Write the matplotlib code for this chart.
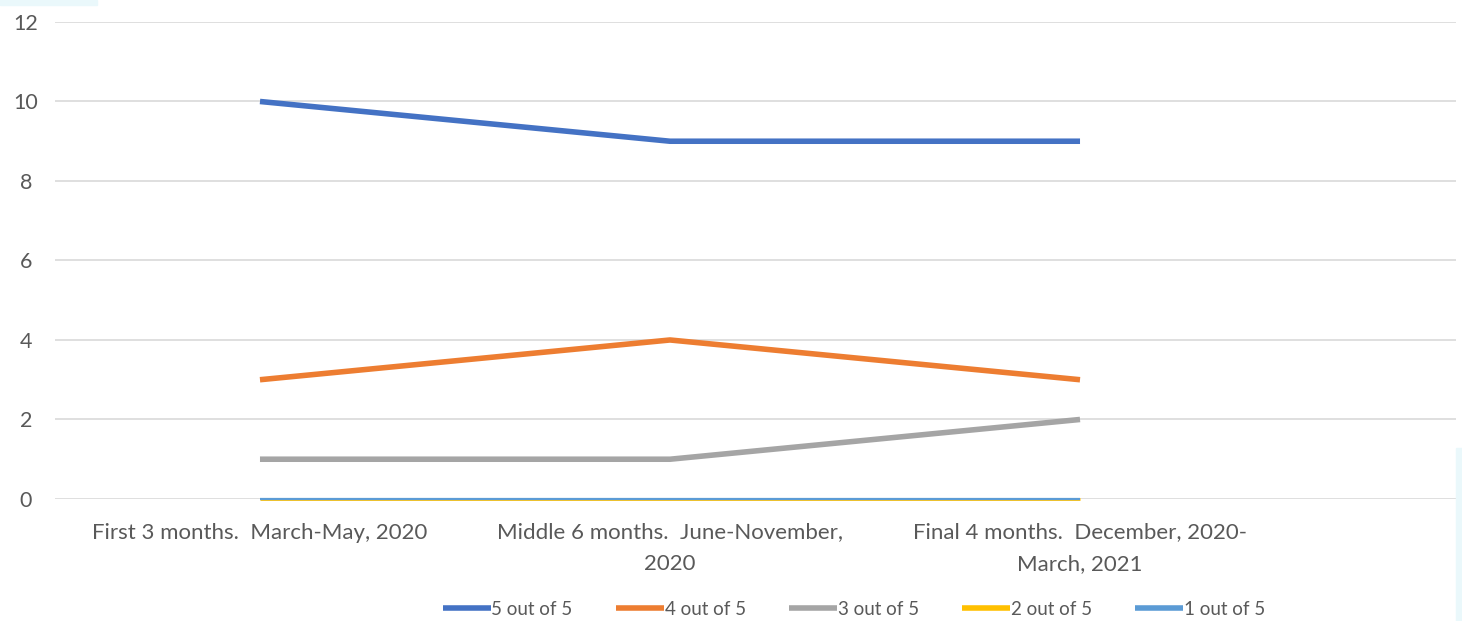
import matplotlib.pyplot as plt
from matplotlib.patches import Rectangle

# Data
periods = [
    "First 3 months.  March-May, 2020",
    "Middle 6 months.  June-November,\n2020",
    "Final 4 months.  December, 2020-\nMarch, 2021",
]
five_of_five = [10, 9, 9]
four_of_five = [3, 4, 3]
three_of_five = [1, 1, 2]
two_of_five = [0, 0, 0]
one_of_five = [0, 0, 0]
y_ticks = [0, 2, 4, 6, 8, 10, 12]

series = [
    ("5 out of 5", five_of_five, "#4472C4", 4.0),
    ("4 out of 5", four_of_five, "#ED7D31", 4.0),
    ("3 out of 5", three_of_five, "#A5A5A5", 4.0),
    ("2 out of 5", two_of_five, "#FFC000", 2.0),
    ("1 out of 5", one_of_five, "#5B9BD5", 1.6),
]

plt.rcParams['font.family'] = ['Lato', 'DejaVu Sans']
text_color = "#595959"

fig = plt.figure(figsize=(14.62, 6.21), dpi=100)
ax = fig.add_axes([0.0376, 0.1965, 0.9583, 0.7681])

x = list(range(len(periods)))
handles = []
for name, vals, color, lw in series:
    h, = ax.plot(x, vals, color=color, linewidth=lw, label=name,
                 solid_capstyle="butt", clip_on=False, zorder=3)
    handles.append(h)

ax.set_xlim(-0.5, 2.917)
ax.set_ylim(0, 12)
ax.set_yticks(y_ticks)
ax.set_xticks(x)
ax.set_xticklabels(periods, fontsize=16, color=text_color, linespacing=1.7)
ax.tick_params(axis="y", labelsize=15.5, labelcolor=text_color, length=0, pad=21)
ax.tick_params(axis="x", length=0, pad=17)
for lab in ax.get_yticklabels():
    lab.set_horizontalalignment("center")

ax.grid(axis="y", color="#D9D9D9", linewidth=1.2)
ax.set_axisbelow(True)
for s in ax.spines.values():
    s.set_visible(False)

leg = fig.legend(handles=handles, labels=[s[0] for s in series],
                 loc="center", bbox_to_anchor=(0.584, 0.019), ncol=5,
                 frameon=False, fontsize=13.5, handlelength=2.55,
                 handletextpad=0.05, columnspacing=2.3)
for t in leg.get_texts():
    t.set_color(text_color)
for lh in leg.get_lines():
    lh.set_linewidth(4)

# light screenshot edges
fig.patches.append(Rectangle((0, 1 - 5 / 621), 97 / 1462, 5 / 621,
                             transform=fig.transFigure, color="#EAF8FB", zorder=0))
fig.patches.append(Rectangle((1456 / 1462, 0), 6 / 1462, 173 / 621,
                             transform=fig.transFigure, color="#EAF8FB", zorder=0))

fig.savefig("out.png", dpi=100)
